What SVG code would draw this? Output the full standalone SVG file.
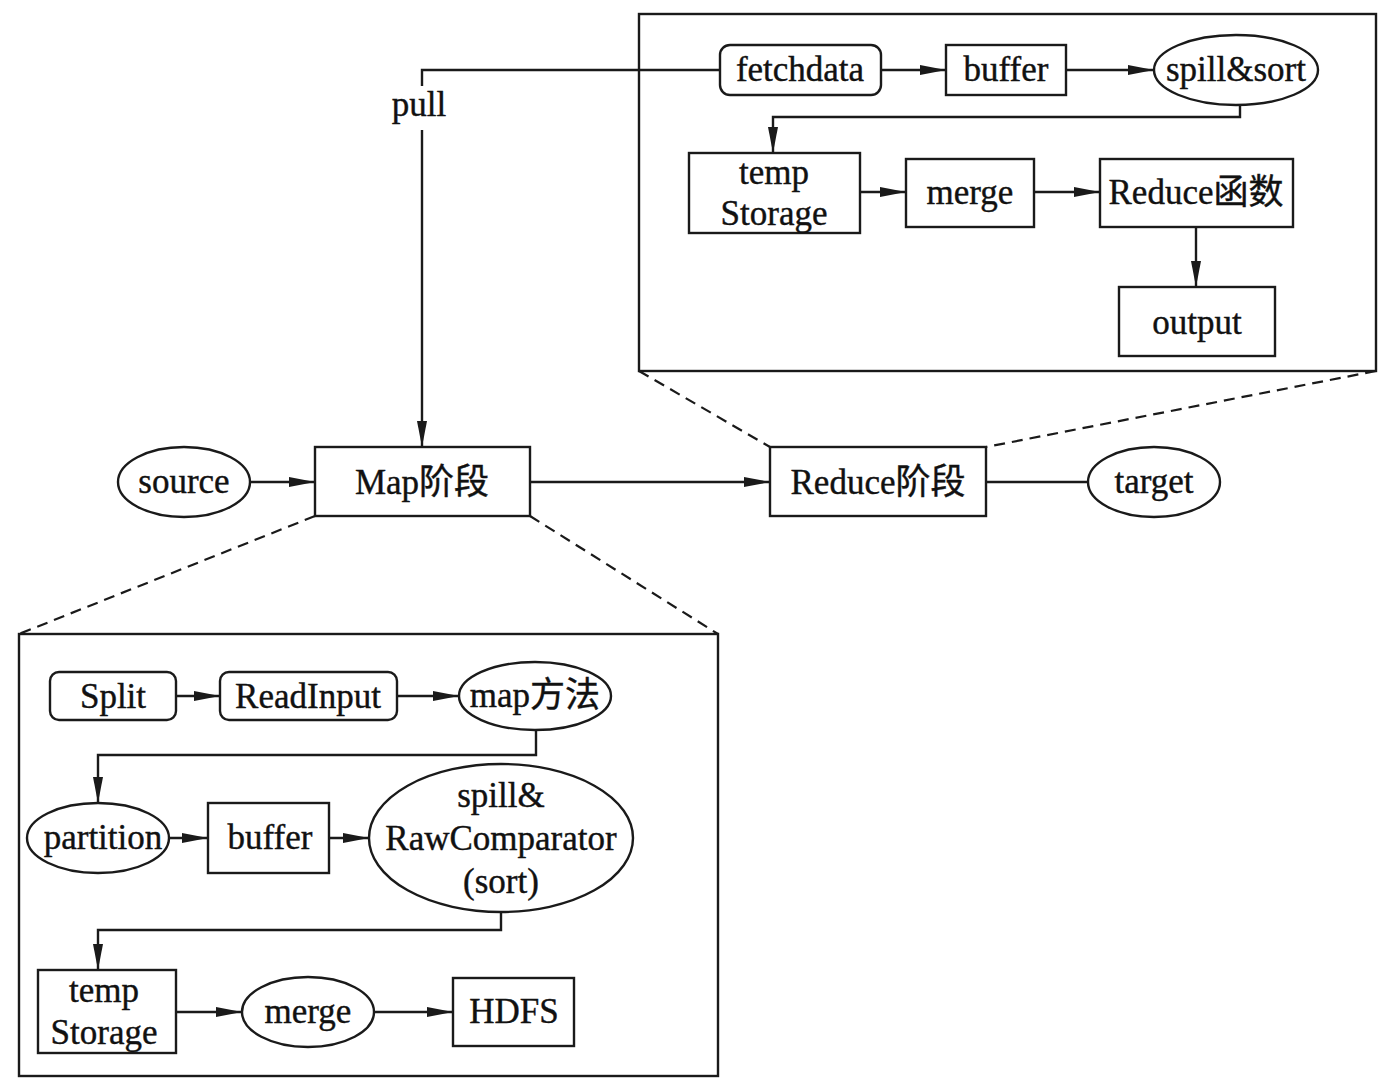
<svg xmlns="http://www.w3.org/2000/svg" width="1395" height="1088" viewBox="0 0 1395 1088">
  <style>
    .box { fill: #fff; stroke: #1a1a1a; stroke-width: 2.4; }
    .frame { fill: none; stroke: #1a1a1a; stroke-width: 2.4; }
    .edge { fill: none; stroke: #1a1a1a; stroke-width: 2.4; }
    .dash { fill: none; stroke: #1a1a1a; stroke-width: 2.2; stroke-dasharray: 11 7; }
    text { font-family: "Liberation Serif", "Noto Sans CJK SC", serif; font-size: 35px; fill: #111; stroke: #111; stroke-width: 0.4; text-anchor: middle; dominant-baseline: central; }
  </style>
  <defs>
    <marker id="arrow" markerWidth="26" markerHeight="12" refX="26" refY="6" orient="auto" markerUnits="userSpaceOnUse">
      <path d="M0,1 L26,6 L0,11 Z" fill="#1a1a1a"/>
    </marker>
  </defs>

  <rect class="frame" x="639" y="14" width="737" height="357"/>
  <rect class="frame" x="19" y="634" width="699" height="442"/>

  <g id="connectors">
    <!-- pull line from fetchdata to the map stage -->
    <polyline class="edge" points="720,70 422,70 422,86"/>
    <polyline class="edge" points="422,130 422,447" marker-end="url(#arrow)"/>
    <line class="edge" x1="250" y1="482" x2="315" y2="482" marker-end="url(#arrow)"/>
    <line class="edge" x1="530" y1="482" x2="770" y2="482" marker-end="url(#arrow)"/>
    <line class="edge" x1="986" y1="482" x2="1088" y2="482"/>
    <!-- zoom-out dashed guides -->
    <line class="dash" x1="639" y1="371" x2="770" y2="447"/>
    <line class="dash" x1="1376" y1="371" x2="986" y2="447"/>
    <line class="dash" x1="315" y1="516" x2="19" y2="634"/>
    <line class="dash" x1="530" y1="516" x2="718" y2="634"/>
    <!-- reduce detail -->
    <line class="edge" x1="881" y1="70" x2="946" y2="70" marker-end="url(#arrow)"/>
    <line class="edge" x1="1066" y1="70" x2="1154" y2="70" marker-end="url(#arrow)"/>
    <polyline class="edge" points="1240,105 1240,117 773,117 773,153" marker-end="url(#arrow)"/>
    <line class="edge" x1="860" y1="192" x2="906" y2="192" marker-end="url(#arrow)"/>
    <line class="edge" x1="1034" y1="192" x2="1100" y2="192" marker-end="url(#arrow)"/>
    <line class="edge" x1="1196" y1="227" x2="1196" y2="287" marker-end="url(#arrow)"/>
    <!-- map detail -->
    <line class="edge" x1="176" y1="696" x2="220" y2="696" marker-end="url(#arrow)"/>
    <line class="edge" x1="397" y1="696" x2="459" y2="696" marker-end="url(#arrow)"/>
    <polyline class="edge" points="536,730 536,755 98,755 98,803" marker-end="url(#arrow)"/>
    <line class="edge" x1="169" y1="838" x2="208" y2="838" marker-end="url(#arrow)"/>
    <line class="edge" x1="329" y1="838" x2="369" y2="838" marker-end="url(#arrow)"/>
    <polyline class="edge" points="501,912 501,930 98,930 98,970" marker-end="url(#arrow)"/>
    <line class="edge" x1="176" y1="1012" x2="242" y2="1012" marker-end="url(#arrow)"/>
    <line class="edge" x1="374" y1="1012" x2="453" y2="1012" marker-end="url(#arrow)"/>
  </g>

  <text x="419" y="104">pull</text>

  <g id="source"><ellipse class="box" cx="184" cy="482" rx="66" ry="35"/><text x="184" y="481">source</text></g>
  <g id="map-stage"><rect class="box" x="315" y="447" width="215" height="69"/><text x="422" y="482">Map阶段</text></g>
  <g id="reduce-stage"><rect class="box" x="770" y="447" width="216" height="69"/><text x="878" y="482">Reduce阶段</text></g>
  <g id="target"><ellipse class="box" cx="1154" cy="482" rx="66" ry="35"/><text x="1154" y="481">target</text></g>

  <g id="fetchdata"><rect class="box" x="720" y="45" width="161" height="50" rx="10"/><text x="800" y="69">fetchdata</text></g>
  <g id="reduce-buffer"><rect class="box" x="946" y="45" width="120" height="50"/><text x="1006" y="69">buffer</text></g>
  <g id="spill-sort"><ellipse class="box" cx="1236" cy="70" rx="82" ry="35"/><text x="1236" y="69">spill&amp;sort</text></g>
  <g id="reduce-temp"><rect class="box" x="689" y="153" width="171" height="80"/><text x="774" y="172">temp</text><text x="774" y="213">Storage</text></g>
  <g id="reduce-merge"><rect class="box" x="906" y="159" width="128" height="68"/><text x="970" y="192">merge</text></g>
  <g id="reduce-fn"><rect class="box" x="1100" y="159" width="193" height="68"/><text x="1196" y="192">Reduce函数</text></g>
  <g id="output"><rect class="box" x="1119" y="287" width="156" height="69"/><text x="1197" y="322">output</text></g>

  <g id="split"><rect class="box" x="50" y="672" width="126" height="48" rx="9"/><text x="113" y="696">Split</text></g>
  <g id="readinput"><rect class="box" x="220" y="672" width="177" height="48" rx="9"/><text x="308" y="696">ReadInput</text></g>
  <g id="map-method"><ellipse class="box" cx="535" cy="696" rx="76" ry="34"/><text x="535" y="695">map方法</text></g>
  <g id="partition"><ellipse class="box" cx="98" cy="838" rx="71" ry="35"/><text x="103" y="837">partition</text></g>
  <g id="map-buffer"><rect class="box" x="208" y="803" width="121" height="70"/><text x="270" y="837">buffer</text></g>
  <g id="spill-raw"><ellipse class="box" cx="501" cy="838" rx="132" ry="74"/><text x="501" y="795">spill&amp;</text><text x="501" y="838">RawComparator</text><text x="501" y="881">(sort)</text></g>
  <g id="map-temp"><rect class="box" x="38" y="970" width="138" height="83"/><text x="104" y="990">temp</text><text x="104" y="1032">Storage</text></g>
  <g id="map-merge"><ellipse class="box" cx="308" cy="1012" rx="66" ry="35"/><text x="308" y="1011">merge</text></g>
  <g id="hdfs"><rect class="box" x="453" y="978" width="121" height="68"/><text x="514" y="1011">HDFS</text></g>
</svg>
